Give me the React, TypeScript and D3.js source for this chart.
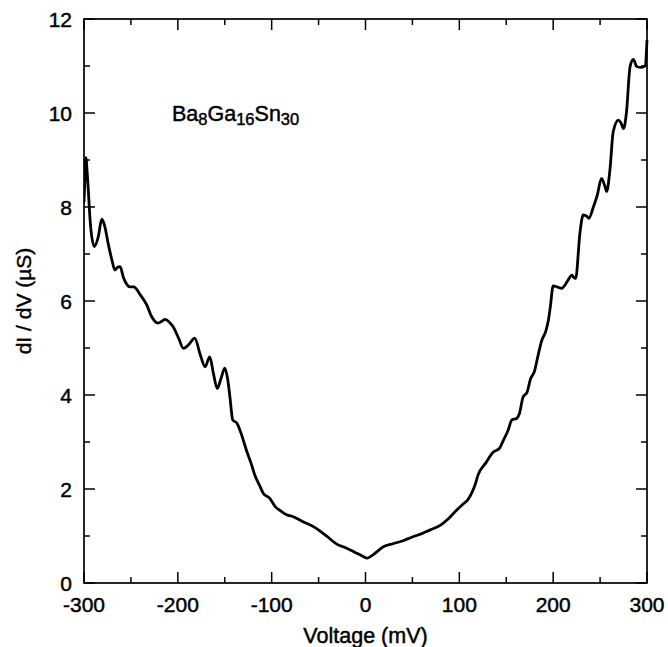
import React from "react";
import * as d3 from "d3";

const voltage = [
  -300, -299, -298, -296.5, -293, -289, -285, -281, -278, -274, -270, -267, -264, -261.5, -258, -256,
  -251, -247, -240, -233, -228, -221, -217, -213.5, -209, -205, -199, -194, -188, -182, -176, -171,
  -166, -162, -158, -154, -150, -147, -144.5, -141.5, -137, -132, -127, -122, -118, -113, -109, -102,
  -96, -90, -84, -77, -66, -55.5, -48, -41, -29, -23.5, -12, -3, 2, 8, 19, 30, 40, 50, 60, 69, 80, 88,
  97, 104, 109, 114, 117, 120, 128, 136, 143, 147, 152, 156, 161, 164, 168, 172, 176, 180, 184, 188,
  192, 195, 197, 200, 204, 209, 213, 216, 220, 222, 224, 228.5, 232, 236, 238, 243, 247, 251.5, 255,
  257, 260.5, 264, 269.5, 272, 275, 278, 282, 285.5, 289, 294, 298, 300,
];
const conductance = [
  8.1, 8.6, 9.05, 8.7, 7.6, 7.16, 7.35, 7.74, 7.6, 7.2, 6.85, 6.66, 6.72, 6.73, 6.5, 6.41,
  6.3, 6.3, 6.13, 5.91, 5.67, 5.53, 5.57, 5.61, 5.55, 5.45, 5.2, 4.99, 5.08, 5.21, 4.85, 4.6,
  4.81, 4.45, 4.14, 4.35, 4.57, 4.35, 3.96, 3.47, 3.4, 3.15, 2.83, 2.55, 2.3, 2.08, 1.91, 1.8,
  1.62, 1.53, 1.45, 1.41, 1.3, 1.2, 1.1, 0.99, 0.81, 0.77, 0.66, 0.57, 0.53, 0.6, 0.77, 0.84, 0.9, 0.98, 1.05, 1.13, 1.23, 1.36,
  1.55, 1.68, 1.77, 1.95, 2.1, 2.3, 2.55, 2.78, 2.87, 3.04, 3.25, 3.47, 3.5, 3.6, 3.96, 4.05, 4.35, 4.5, 4.85, 5.17,
  5.35, 5.6, 5.88, 6.32, 6.3, 6.27, 6.35, 6.45, 6.55, 6.5, 6.48, 7.44, 7.83, 7.8, 7.76, 8.01, 8.25, 8.61, 8.45,
  8.33, 8.79, 9.6, 9.85, 9.8, 9.67, 9.99, 10.99, 11.14, 10.99, 10.97, 11.0, 11.55,
];

const xMajor = [-300, -200, -100, 0, 100, 200, 300];
const xMinor = [-250, -150, -50, 50, 150, 250];
const yMajor = [0, 2, 4, 6, 8, 10, 12];
const yMinor = [1, 3, 5, 7, 9, 11];

const W = 668;
const H = 647;
const L = 84, R = 647, T = 19, B = 583;
const FONT = "Liberation Sans, Arial, Helvetica, sans-serif";

export default function App() {
  const x = d3.scaleLinear().domain([-300, 300]).range([L, R]);
  const y = d3.scaleLinear().domain([0, 12]).range([B, T]);
  const pts = voltage.map((v, i) => [v, conductance[i]] as [number, number]);
  const line = d3
    .line<[number, number]>()
    .x((d) => x(d[0]))
    .y((d) => y(d[1]))
    .curve(d3.curveMonotoneX);

  const majorLen = 11;
  const minorLen = 6;
  const textStroke = { stroke: "#000", strokeWidth: 0.45 };

  return (
    <svg
      width={W}
      height={H}
      style={{ position: "absolute", left: 0, top: 0, background: "#fff" }}
      fontFamily={FONT}
    >
      <rect x={0} y={0} width={W} height={H} fill="#fff" />
      <defs>
        <clipPath id="plot">
          <rect x={L} y={T - 2} width={R - L + 2} height={B - T + 4} />
        </clipPath>
      </defs>
      <path d={line(pts) || ""} fill="none" stroke="#000" strokeWidth={2.8} strokeLinejoin="round" clipPath="url(#plot)" />
      <rect x={L} y={T} width={R - L} height={B - T} fill="none" stroke="#000" strokeWidth={1.7} />
      {xMajor.map((v) => (
        <g key={"xm" + v}>
          <line x1={x(v)} x2={x(v)} y1={B} y2={B - majorLen} stroke="#000" strokeWidth={1.5} />
          <line x1={x(v)} x2={x(v)} y1={T} y2={T + majorLen} stroke="#000" strokeWidth={1.5} />
          <text x={x(v)} y={612} textAnchor="middle" fontSize={21} {...textStroke}>
            {v}
          </text>
        </g>
      ))}
      {xMinor.map((v) => (
        <g key={"xn" + v}>
          <line x1={x(v)} x2={x(v)} y1={B} y2={B - minorLen} stroke="#000" strokeWidth={1.5} />
          <line x1={x(v)} x2={x(v)} y1={T} y2={T + minorLen} stroke="#000" strokeWidth={1.5} />
        </g>
      ))}
      {yMajor.map((v) => (
        <g key={"ym" + v}>
          <line x1={L} x2={L + majorLen} y1={y(v)} y2={y(v)} stroke="#000" strokeWidth={1.5} />
          <line x1={R} x2={R - majorLen} y1={y(v)} y2={y(v)} stroke="#000" strokeWidth={1.5} />
          <text x={72} y={y(v) + 7.5} textAnchor="end" fontSize={21} {...textStroke}>
            {v}
          </text>
        </g>
      ))}
      {yMinor.map((v) => (
        <g key={"yn" + v}>
          <line x1={L} x2={L + minorLen} y1={y(v)} y2={y(v)} stroke="#000" strokeWidth={1.5} />
          <line x1={R} x2={R - minorLen} y1={y(v)} y2={y(v)} stroke="#000" strokeWidth={1.5} />
        </g>
      ))}
      <text x={(L + R) / 2} y={643} textAnchor="middle" fontSize={21.5} {...textStroke}>
        Voltage (mV)
      </text>
      <text
        transform={`translate(31, ${(T + B) / 2}) rotate(-90)`}
        textAnchor="middle"
        fontSize={21}
        {...textStroke}
      >
        dI / dV (µS)
      </text>
      <text x={172} y={121} fontSize={21.5} {...textStroke}>
        Ba<tspan fontSize={16.5} dy={4}>8</tspan>
        <tspan dy={-4}>Ga</tspan>
        <tspan fontSize={16.5} dy={4}>16</tspan>
        <tspan dy={-4}>Sn</tspan>
        <tspan fontSize={16.5} dy={4}>30</tspan>
      </text>
    </svg>
  );
}
